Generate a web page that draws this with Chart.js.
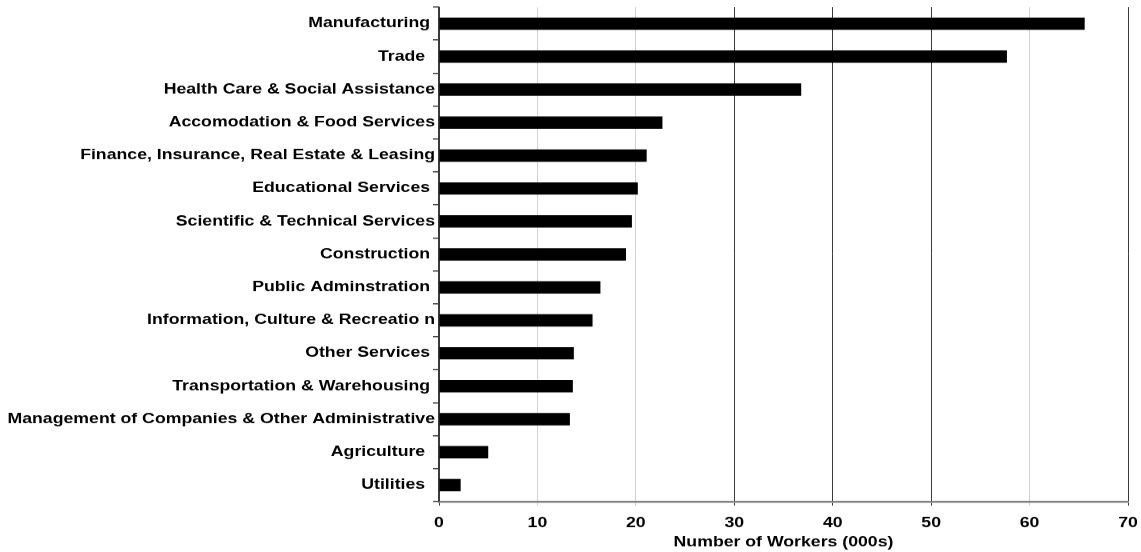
<!DOCTYPE html>
<html>
<head>
<meta charset="utf-8">
<title>Number of Workers by Industry</title>
<script src="https://cdn.jsdelivr.net/npm/chart.js@4/dist/chart.umd.min.js"></script>
<style>
  html, body { margin: 0; padding: 0; background: #ffffff; overflow: hidden; }
</style>
</head>
<body>
<!-- drawn at 1141x690 and shown at 1141x552 (text comes out wide and flat) -->
<canvas id="chart" width="1141" height="690" style="display:block;width:1141px;height:552px;"></canvas>
<script>
// Industries, top to bottom (trailing spaces kept as in the source labels)
const industries = [
  "Manufacturing ",
  "Trade  ",
  "Health Care & Social Assistance",
  "Accomodation & Food Services",
  "Finance, Insurance, Real Estate & Leasing",
  "Educational Services ",
  "Scientific & Technical Services",
  "Construction ",
  "Public Adminstration ",
  "Information, Culture & Recreatio n",
  "Other Services ",
  "Transportation & Warehousing ",
  "Management of Companies & Other Administrative",
  "Agriculture  ",
  "Utilities  "
];

// Number of workers, thousands
const workers = [65.6, 57.7, 36.8, 22.7, 21.1, 20.2, 19.6, 19.0, 16.4, 15.6, 13.7, 13.6, 13.3, 5.0, 2.2];

// Value axis
const axisMin = 0;
const axisMax = 70;
const axisStep = 10;
const axisTitle = "Number of Workers (000s)";

// Tick values whose grid lines are drawn dark; the rest are light grey
const darkGridValues = [0, 30, 40, 50, 70];

const labelFont = { family: "'Liberation Sans', Arial, sans-serif", size: 17.7, weight: "bold" };

const gridColor = (ctx) => {
  const v = ctx.tick ? ctx.tick.value : null;
  return darkGridValues.includes(v) ? "#3a3a3a" : "#d2d2d2";
};

new Chart(document.getElementById("chart"), {
  type: "bar",
  data: {
    labels: industries,
    datasets: [{
      data: workers,
      backgroundColor: "#000000",
      borderWidth: 0,
      barPercentage: 0.75,
      categoryPercentage: 0.5
    }]
  },
  options: {
    indexAxis: "y",
    responsive: false,
    animation: false,
    devicePixelRatio: 1,
    layout: { padding: { top: 9, right: 13, bottom: 0, left: 0 } },
    plugins: {
      legend: { display: false },
      tooltip: { enabled: false }
    },
    scales: {
      x: {
        type: "linear",
        position: "bottom",
        min: axisMin,
        max: axisMax,
        afterFit: (scale) => {
          scale.height = 63;
          scale.paddingLeft = 0;
          scale.paddingRight = 0;
        },
        ticks: {
          stepSize: axisStep,
          color: "#000000",
          font: labelFont,
          padding: 11,
          maxRotation: 0
        },
        grid: {
          color: gridColor,
          tickColor: gridColor,
          lineWidth: 1,
          tickLength: 5,
          drawTicks: true
        },
        border: { display: true, color: "#808080", width: 2.5 },
        title: {
          display: true,
          text: axisTitle,
          color: "#000000",
          font: labelFont,
          padding: { top: 0, bottom: 1 }
        }
      },
      y: {
        type: "category",
        position: "left",
        afterFit: (scale) => {
          scale.width = 439;
          scale.paddingTop = 0;
          scale.paddingBottom = 0;
        },
        ticks: {
          color: "#000000",
          font: labelFont,
          autoSkip: false,
          padding: -2
        },
        grid: {
          offset: true,
          drawOnChartArea: false,
          drawTicks: true,
          tickLength: 6,
          tickColor: "#3a3a3a",
          lineWidth: 1.5
        },
        border: { display: true, color: "#3a3a3a", width: 1.5 }
      }
    }
  }
});
</script>
</body>
</html>
